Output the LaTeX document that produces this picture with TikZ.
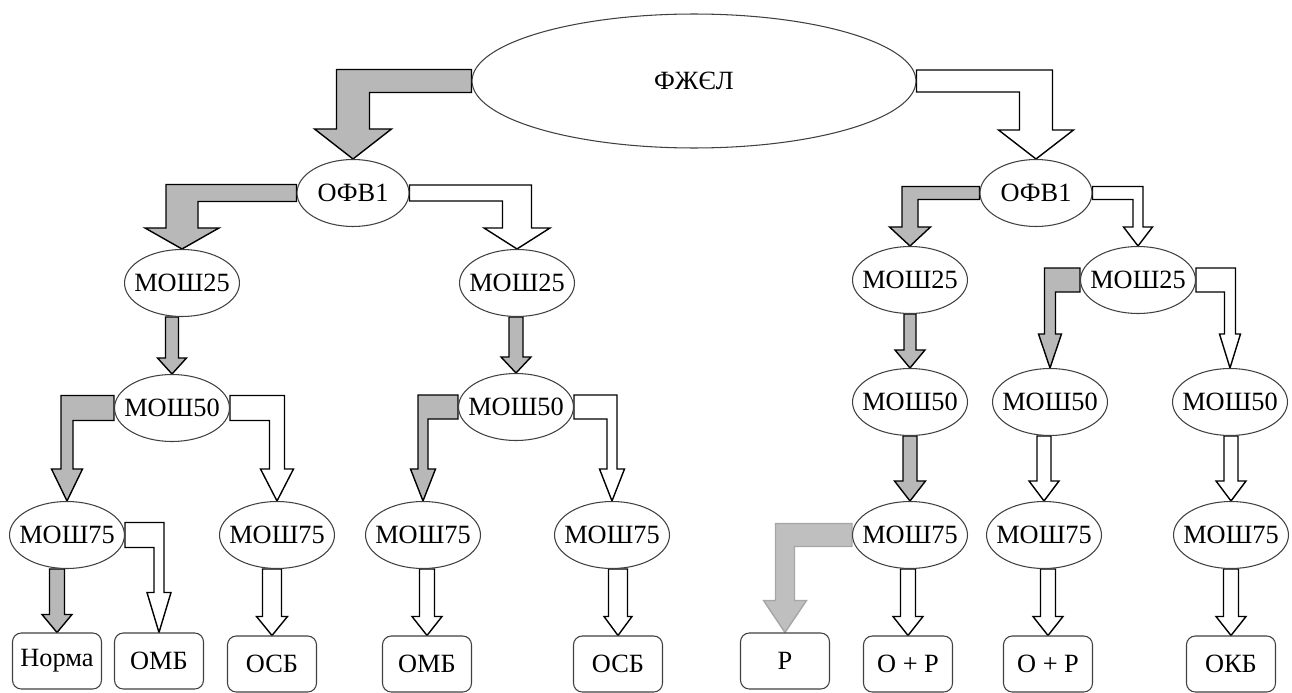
\documentclass[tikz,border=0pt]{standalone}
\usepackage{fontspec}
\setmainfont{Liberation Serif}
\usetikzlibrary{shapes.geometric}
\usetikzlibrary{calc}
\usetikzlibrary{backgrounds}

\newcommand{\lbl}[1]{\makebox[0pt]{#1}}
% bent block arrow: style, side (1 = left, -1 = right), from, to, band, shaft, head, head length
\newcommand{\elbowarrow}[8]{%
  \draw[#1] ($(#3)+(0,-#5)$) -- ($(#4 |- #3)+({-(#2)*#6},-#5)$) -- ($(#4)+({-(#2)*#6},-#8)$)
    -- ($(#4)+({-(#2)*#7},-#8)$) -- (#4) -- ($(#4)+({(#2)*#7},-#8)$) -- ($(#4)+({(#2)*#6},-#8)$)
    -- ($(#4 |- #3)+({(#2)*#6},#5)$) -- ($(#3)+(0,#5)$) -- cycle;}
% straight block arrow: style, from, to, shaft, head, head length
\newcommand{\stemarrow}[6]{%
  \draw[#1] ($(#3 |- #2)+(-#4,0)$) -- ($(#3)+(-#4,-#6)$) -- ($(#3)+(-#5,-#6)$) -- (#3)
    -- ($(#3)+(#5,-#6)$) -- ($(#3)+(#4,-#6)$) -- ($(#3 |- #2)+(#4,0)$) -- cycle;}

\begin{document}
\begin{tikzpicture}[x=0.02cm,y=-0.02cm,font=\fontsize{15}{18}\selectfont,line join=miter]
	\tikzstyle{oval}=[ellipse, draw=black!75, fill=white, line width=0.6pt, inner sep=0pt, minimum width=2.3cm, minimum height=1.34cm]
	\tikzstyle{leaf}=[rectangle, rounded corners=5pt, draw=black!75, fill=white, line width=0.6pt, minimum width=1.78cm, minimum height=1.12cm]
	\tikzstyle{dark}=[draw=black, line width=0.8pt, fill=black!28]
	\tikzstyle{hollow}=[draw=black, line width=0.8pt, fill=white]
	\tikzstyle{pale}=[draw=black!35, line width=0.8pt, fill=black!25]
	\useasboundingbox (0,0) rectangle (1292,693);

	\node[oval, minimum width=8.88cm, minimum height=2.68cm] (root) at (694,81) {\lbl{ФЖЄЛ}};
	\node[oval, minimum width=2.24cm] (ofvL) at (353,193) {\lbl{ОФВ1}};
	\node[oval, minimum width=2.24cm] (ofvR) at (1036,193) {\lbl{ОФВ1}};

	\node[oval] (mA25) at (182,283) {\lbl{МОШ25}};
	\node[oval] (mB25) at (517,283) {\lbl{МОШ25}};
	\node[oval] (mC25) at (910,280) {\lbl{МОШ25}};
	\node[oval] (mD25) at (1138,280) {\lbl{МОШ25}};

	\node[oval] (mA50) at (172,408) {\lbl{МОШ50}};
	\node[oval] (mB50) at (516,407) {\lbl{МОШ50}};
	\node[oval] (mC50) at (910,402) {\lbl{МОШ50}};
	\node[oval] (mD50) at (1050,402) {\lbl{МОШ50}};
	\node[oval] (mE50) at (1230,402) {\lbl{МОШ50}};

	\node[oval] (mA75) at (67,535) {\lbl{МОШ75}};
	\node[oval] (mB75) at (277,535) {\lbl{МОШ75}};
	\node[oval] (mC75) at (423,535) {\lbl{МОШ75}};
	\node[oval] (mD75) at (612,535) {\lbl{МОШ75}};
	\node[oval] (mE75) at (910,535) {\lbl{МОШ75}};
	\node[oval] (mF75) at (1044,535) {\lbl{МОШ75}};
	\node[oval] (mG75) at (1231,535) {\lbl{МОШ75}};

	\node[leaf] (norma) at (57,661) {Норма};
	\node[leaf] (omb1) at (159,661) {ОМБ};
	\node[leaf] (osb1) at (272,664) {ОСБ};
	\node[leaf] (omb2) at (427,664) {ОМБ};
	\node[leaf] (osb2) at (618,664) {ОСБ};
	\node[leaf] (rr) at (785,661) {Р};
	\node[leaf] (orA) at (908,664) {О + Р};
	\node[leaf] (orB) at (1048,664) {О + Р};
	\node[leaf] (okb) at (1231,664) {ОКБ};

	\begin{scope}[on background layer]
		\elbowarrow{dark}{1}{root.west}{ofvL.north}{11.5}{16.5}{38.5}{30}
		\elbowarrow{hollow}{-1}{root.east}{ofvR.north}{11}{16.5}{37.5}{29}
		\elbowarrow{dark}{1}{ofvL.west}{mA25.north}{8.5}{16}{37}{21}
		\elbowarrow{hollow}{-1}{ofvL.east}{mB25.north}{8}{14.5}{33}{21}
		\stemarrow{dark}{mA25.south}{mA50.north}{6.5}{14.5}{16}
		\stemarrow{dark}{mB25.south}{mB50.north}{7}{15}{16}
		\elbowarrow{dark}{1}{mA50.west}{mA75.north}{12.5}{6}{15.5}{32}
		\elbowarrow{hollow}{-1}{mA50.east}{mB75.north}{12.5}{7.5}{16.5}{32}
		\stemarrow{dark}{mA75.south}{norma.north}{7.5}{15}{18}
		\elbowarrow{hollow}{-1}{mA75.east}{omb1.north}{12.5}{5}{12}{40}
		\stemarrow{hollow}{mB75.south}{osb1.north}{9.5}{15.5}{19}
		\elbowarrow{dark}{1}{mB50.west}{mC75.north}{12}{5}{12.5}{32}
		\elbowarrow{hollow}{-1}{mB50.east}{mD75.north}{12}{5}{12.5}{32}
		\stemarrow{hollow}{mC75.south}{omb2.north}{7.5}{15}{19}
		\stemarrow{hollow}{mD75.south}{osb2.north}{9.5}{14}{19}
		\elbowarrow{dark}{1}{ofvR.west}{mC25.north}{6.5}{8}{20.5}{19}
		\elbowarrow{hollow}{-1}{ofvR.east}{mD25.north}{6.5}{5}{14.5}{19}
		\stemarrow{dark}{mC25.south}{mC50.north}{6}{15}{18}
		\elbowarrow{dark}{1}{mD25.west}{mD50.north}{12}{5.5}{11.5}{34}
		\elbowarrow{hollow}{-1}{mD25.east}{mE50.north}{12}{5.5}{10.5}{34}
		\stemarrow{dark}{mC50.south}{mE75.north}{7}{15.5}{20}
		\stemarrow{hollow}{mD50.south}{mF75.north}{7}{15}{20}
		\stemarrow{hollow}{mE50.south}{mG75.north}{7}{15}{20}
		\elbowarrow{pale}{1}{mE75.west}{rr.north}{11.5}{9.5}{21.5}{32}
		\stemarrow{hollow}{mE75.south}{orA.north}{7.5}{15}{19}
		\stemarrow{hollow}{mF75.south}{orB.north}{7.5}{15}{19}
		\stemarrow{hollow}{mG75.south}{okb.north}{7.5}{15}{19}
	\end{scope}
\end{tikzpicture}
\end{document}
